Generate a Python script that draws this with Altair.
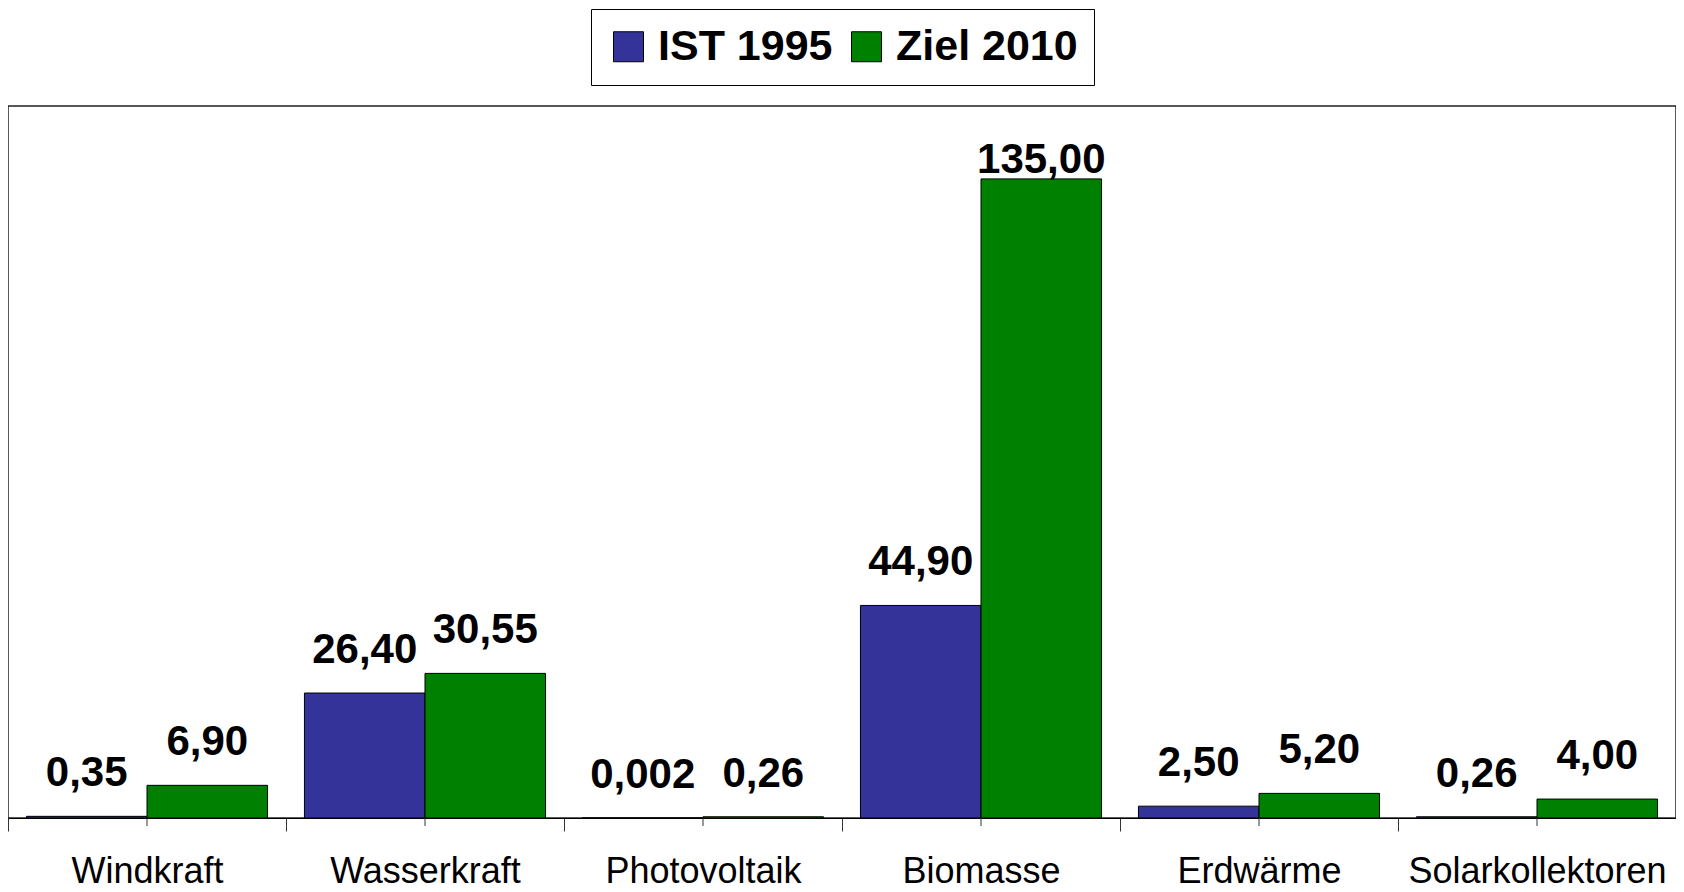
import altair as alt
import pandas as pd

categories = ["Windkraft", "Wasserkraft", "Photovoltaik", "Biomasse", "Erdwärme", "Solarkollektoren"]
series = ["IST 1995", "Ziel 2010"]
ist_1995 = [0.35, 26.40, 0.002, 44.90, 2.50, 0.26]
ziel_2010 = [6.90, 30.55, 0.26, 135.00, 5.20, 4.00]
ist_labels = ["0,35", "26,40", "0,002", "44,90", "2,50", "0,26"]
ziel_labels = ["6,90", "30,55", "0,26", "135,00", "5,20", "4,00"]
colors = ["#333399", "#008000"]

rows = []
for i, c in enumerate(categories):
    rows.append({"Kategorie": c, "Serie": series[0], "Wert": ist_1995[i], "Label": ist_labels[i]})
    rows.append({"Kategorie": c, "Serie": series[1], "Wert": ziel_2010[i], "Label": ziel_labels[i]})
df = pd.DataFrame(rows)

W, H = 1668, 712
FONT = "Liberation Sans"

x_axis = alt.Axis(
    title=None, labelAngle=0, labelFont=FONT, labelFontSize=36, labelColor="black",
    tickBand="extent", tickSize=13, tickColor="#333333", tickWidth=1,
    domainColor="black", domainWidth=1, labelPadding=23, labelLimit=400,
)
x = alt.X("Kategorie:N", sort=categories, scale=alt.Scale(paddingInner=0, paddingOuter=0), axis=x_axis)
xo = alt.XOffset("Serie:N", sort=series, scale=alt.Scale(paddingOuter=0.153, paddingInner=0))
yscale = alt.Scale(domain=[0, 150.4], nice=False)

bars = alt.Chart(df).mark_bar(stroke="black", strokeWidth=1).encode(
    x=x,
    xOffset=xo,
    y=alt.Y("Wert:Q", scale=yscale, axis=None),
    color=alt.Color(
        "Serie:N", sort=series,
        scale=alt.Scale(domain=series, range=colors),
        legend=alt.Legend(
            orient="none", legendX=583, legendY=-97, direction="horizontal", title=None,
            symbolType="square", symbolSize=900, symbolStrokeColor="black", symbolStrokeWidth=1,
            symbolOpacity=1,
            labelFont=FONT, labelFontSize=43, labelFontWeight="bold", labelColor="black",
            labelLimit=400, labelOffset=8, columnPadding=12, padding=16,
            strokeColor="black", fillColor="white",
        ),
    ),
)

text = alt.Chart(df).transform_calculate(pos="min(datum.Wert, 130)").mark_text(
    font=FONT, fontSize=42, fontWeight="bold", baseline="alphabetic", dy=-30, color="black"
).encode(
    x=x,
    xOffset=xo,
    y=alt.Y("pos:Q", scale=yscale, axis=None),
    text="Label:N",
)

center_ticks = alt.Chart(pd.DataFrame({"Kategorie": categories})).mark_rule(
    color="#333333", strokeWidth=1
).encode(
    x=alt.X("Kategorie:N", sort=categories),
    y=alt.value(H),
    y2=alt.value(H + 8),
)

chart = alt.layer(bars, text, center_ticks).properties(
    width=W, height=H,
    autosize=alt.AutoSizeParams(type="none"),
    padding={"top": 98, "left": 0, "right": 0, "bottom": 76},
    background="white",
).configure_view(stroke="#222222", strokeWidth=1.5)

chart.save("out.html", embed_options={"renderer": "svg", "actions": False})
